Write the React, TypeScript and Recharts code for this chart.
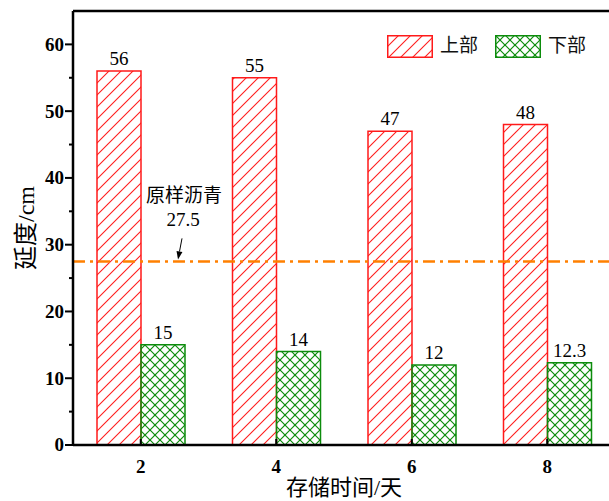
import React from "react";
import { BarChart, Bar, XAxis, YAxis, ReferenceLine, LabelList, Legend } from "recharts";

const days = ["2", "4", "6", "8"];
const upperDuctility = [56, 55, 47, 48];
const lowerDuctility = [15, 14, 12, 12.3];
const originalDuctility = 27.5;
const yTicks = [0, 5, 10, 15, 20, 25, 30, 35, 40, 45, 50, 55, 60];
const yMax = 65;

const RED = "#ff1a1a";
const GREEN = "#0c8c0c";
const ORANGE = "#ff8000";
const FONT = "'Liberation Serif', 'Times New Roman', 'Noto Sans CJK SC', serif";

const data = days.map((d, i) => ({ day: d, upper: upperDuctility[i], lower: lowerDuctility[i] }));

const legendItems = [
  { name: "上部", fill: "url(#hatchRed)", stroke: RED },
  { name: "下部", fill: "url(#crossGreen)", stroke: GREEN },
];

// fill patterns shared by the bars and the legend swatches
const Patterns = () => (
  <svg width={0} height={0} style={{ position: "absolute" }}>
    <defs>
      <pattern id="hatchRed" patternUnits="userSpaceOnUse" width={12} height={12}>
        <line x1={-3} y1={3} x2={3} y2={-3} style={{ stroke: RED, strokeWidth: 1.1 }} />
        <line x1={0} y1={12} x2={12} y2={0} style={{ stroke: RED, strokeWidth: 1.1 }} />
        <line x1={9} y1={15} x2={15} y2={9} style={{ stroke: RED, strokeWidth: 1.1 }} />
      </pattern>
      <pattern id="crossGreen" patternUnits="userSpaceOnUse" width={10} height={10}>
        <line x1={-2.5} y1={2.5} x2={2.5} y2={-2.5} style={{ stroke: GREEN, strokeWidth: 1.2 }} />
        <line x1={0} y1={10} x2={10} y2={0} style={{ stroke: GREEN, strokeWidth: 1.2 }} />
        <line x1={7.5} y1={12.5} x2={12.5} y2={7.5} style={{ stroke: GREEN, strokeWidth: 1.2 }} />
        <line x1={-2.5} y1={7.5} x2={2.5} y2={12.5} style={{ stroke: GREEN, strokeWidth: 1.2 }} />
        <line x1={0} y1={0} x2={10} y2={10} style={{ stroke: GREEN, strokeWidth: 1.2 }} />
        <line x1={7.5} y1={-2.5} x2={12.5} y2={2.5} style={{ stroke: GREEN, strokeWidth: 1.2 }} />
      </pattern>
    </defs>
  </svg>
);

const YTick = ({ x, y, payload }: any) => {
  const major = payload.value % 10 === 0;
  return (
    <g>
      <line x1={x} x2={x - (major ? 8 : 4)} y1={y} y2={y} stroke="#000" strokeWidth={2} />
      {major && (
        <text
          x={x - 9}
          y={y}
          dy="0.34em"
          textAnchor="end"
          fontSize={19}
          fontWeight="bold"
          fontFamily={FONT}
          fill="#000"
        >
          {payload.value}
        </text>
      )}
    </g>
  );
};

const XTick = ({ x, y, payload }: any) => (
  <g>
    <line x1={x} x2={x} y1={y} y2={y - 6} stroke="#000" strokeWidth={2} />
    <text x={x} y={y + 28} textAnchor="middle" fontSize={19} fontWeight="bold" fontFamily={FONT} fill="#000">
      {payload.value}
    </text>
  </g>
);

// note + arrow pointing at the dash-dot reference line
const renderNote = ({ viewBox }: any) => {
  const lineY = viewBox.y;
  const cx = viewBox.x + 111;
  const x1 = viewBox.x + 109;
  const y1 = lineY - 23;
  const x2 = viewBox.x + 105;
  const y2 = lineY - 2;
  const len = Math.hypot(x2 - x1, y2 - y1);
  const ux = (x2 - x1) / len;
  const uy = (y2 - y1) / len;
  const bx = x2 - ux * 8;
  const by = y2 - uy * 8;
  return (
    <g fontFamily={FONT} fill="#000">
      <text x={cx} y={lineY - 59} textAnchor="middle" fontSize={19}>原样沥青</text>
      <text x={cx - 1} y={lineY - 35} textAnchor="middle" fontSize={19}>{originalDuctility}</text>
      <line x1={x1} y1={y1} x2={bx} y2={by} stroke="#000" strokeWidth={1} />
      <polygon
        points={`${x2},${y2} ${bx - uy * 3},${by + ux * 3} ${bx + uy * 3},${by - ux * 3}`}
        fill="#000"
      />
    </g>
  );
};

const renderLegend = () => (
  <div style={{ position: "relative", width: 200, height: 24, fontFamily: FONT }}>
    {legendItems.map((item, i) => (
      <React.Fragment key={item.name}>
        <svg
          width={46}
          height={23}
          style={{ position: "absolute", left: i * 108, top: 0, overflow: "visible" }}
        >
          <rect x={0.75} y={0.75} width={44.5} height={21.5} fill={item.fill} stroke={item.stroke} strokeWidth={1.5} />
        </svg>
        <span
          style={{
            position: "absolute",
            left: i * 108 + 53,
            top: -1,
            fontSize: 19,
            lineHeight: "24px",
            color: "#111",
            whiteSpace: "nowrap",
          }}
        >
          {item.name}
        </span>
      </React.Fragment>
    ))}
  </div>
);

export default function App() {
  return (
    <div
      style={{
        position: "fixed",
        left: 0,
        top: 0,
        width: 609,
        height: 501,
        overflow: "hidden",
        background: "#fff",
      }}
    >
      <Patterns />
      <BarChart
        width={620}
        height={501}
        data={data}
        margin={{ top: 11, right: 5, left: 13, bottom: 0 }}
        barGap={0}
        barSize={44}
      >
        <XAxis
          dataKey="day"
          height={56}
          interval={0}
          tickSize={0}
          tickMargin={0}
          tickLine={false}
          tick={<XTick />}
          axisLine={{ stroke: "#000", strokeWidth: 2.5 }}
          label={{
            content: ({ viewBox }: any) => (
              <text
                x={viewBox.x + viewBox.width / 2}
                y={495}
                textAnchor="middle"
                fontSize={22}
                fontFamily={FONT}
                fill="#000"
              >
                存储时间/天
              </text>
            ),
          }}
        />
        <YAxis
          width={60}
          domain={[0, yMax]}
          ticks={yTicks}
          interval={0}
          tickSize={0}
          tickMargin={0}
          tickLine={false}
          tick={<YTick />}
          axisLine={{ stroke: "#000", strokeWidth: 2.5 }}
          label={{
            content: ({ viewBox }: any) => {
              const cy = viewBox.y + viewBox.height / 2;
              return (
                <text
                  x={26}
                  y={cy}
                  transform={`rotate(-90, 26, ${cy})`}
                  textAnchor="middle"
                  dominantBaseline="central"
                  fontSize={24}
                  fontFamily={FONT}
                  fill="#000"
                >
                  延度/cm
                </text>
              );
            },
          }}
        />
        <Legend
          layout="horizontal"
          verticalAlign="middle"
          align="center"
          content={renderLegend}
          wrapperStyle={{ left: 387, top: 35, width: 200 }}
        />
        <Bar dataKey="upper" name="上部" fill="url(#hatchRed)" stroke={RED} strokeWidth={1.5} isAnimationActive={false}>
          <LabelList dataKey="upper" position="top" offset={6} fontSize={19} fontFamily={FONT} fill="#000" />
        </Bar>
        <Bar dataKey="lower" name="下部" fill="url(#crossGreen)" stroke={GREEN} strokeWidth={1.5} isAnimationActive={false}>
          <LabelList dataKey="lower" position="top" offset={6} fontSize={19} fontFamily={FONT} fill="#000" />
        </Bar>
        <ReferenceLine y={yMax} stroke="#000" strokeWidth={2.5} />
        <ReferenceLine
          y={originalDuctility}
          stroke={ORANGE}
          strokeWidth={2.5}
          strokeDasharray="12 5 3 5"
          label={renderNote}
        />
      </BarChart>
    </div>
  );
}
